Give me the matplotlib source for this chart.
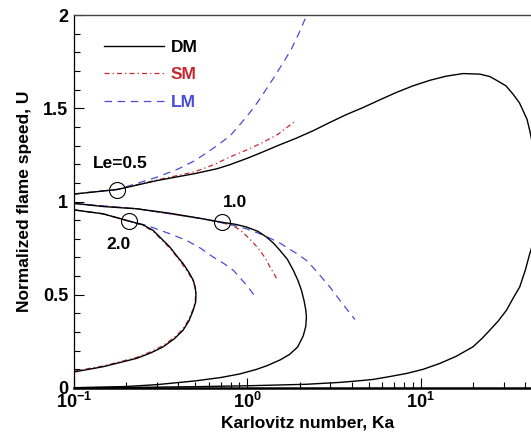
import math
import matplotlib
matplotlib.use("Agg")
import matplotlib.pyplot as plt
from matplotlib.ticker import MultipleLocator, LogLocator, FuncFormatter, NullFormatter

plt.rcParams["font.family"] = ["Liberation Sans", "DejaVu Sans"]
plt.rcParams["font.weight"] = "bold"
plt.rcParams["mathtext.fontset"] = "custom"
plt.rcParams["mathtext.rm"] = "Liberation Sans:bold"
plt.rcParams["mathtext.bf"] = "Liberation Sans:bold"

# ---- data (Ka, U) ----
# Le = 0.5, detailed model (closed loop)
dm05_ka = [0.1, 0.177, 0.3, 0.5, 0.67, 0.79, 1.0, 1.23, 1.5, 1.92, 2.4, 2.99, 3.7, 4.65, 5.8, 7.24,
           9.0, 11.3, 14.0, 17.5, 21.9, 25.0, 27.3, 31.0, 34.0, 37.0, 38.9, 41.0, 42.5, 44.3,
           45.7, 46.6, 46.8, 46.3, 45.2, 43.8, 42.5, 40.0, 37.2, 34.0, 31.2, 28.0, 25.0, 22.5,
           20.0, 16.0, 12.9, 10.3, 8.28, 6.5, 5.31, 4.2, 3.41, 2.19, 1.5, 1.0, 0.5, 0.2, 0.1]
dm05_u = [1.04, 1.064, 1.112, 1.15, 1.176, 1.197, 1.232, 1.266, 1.30, 1.34, 1.38, 1.424, 1.465, 1.504,
          1.545, 1.585, 1.62, 1.65, 1.672, 1.686, 1.683, 1.67, 1.65, 1.62, 1.576, 1.53, 1.487,
          1.44, 1.38, 1.30, 1.20, 1.10, 1.0, 0.90, 0.82, 0.76, 0.72, 0.63, 0.542, 0.48, 0.417,
          0.36, 0.31, 0.265, 0.221, 0.17, 0.132, 0.10, 0.078, 0.06, 0.046, 0.037, 0.03, 0.02,
          0.016, 0.012, 0.007, 0.003, 0.002]
sm05_ka = [0.1, 0.177, 0.3, 0.5, 0.65, 0.79, 1.0, 1.23, 1.5, 1.88]
sm05_u = [1.04, 1.065, 1.115, 1.16, 1.20, 1.238, 1.278, 1.317, 1.36, 1.43]
lm05_ka = [0.1, 0.18, 0.3, 0.4, 0.5, 0.67, 0.8, 0.9, 1.0, 1.1, 1.2, 1.3, 1.4, 1.5, 1.6, 1.8,
           2.0, 2.2, 2.3]
lm05_u = [1.04, 1.066, 1.13, 1.175, 1.22, 1.30, 1.355, 1.41, 1.46, 1.51, 1.56, 1.61, 1.655, 1.70,
          1.74, 1.82, 1.91, 2.0, 2.05]

# Le = 1.0
dm10_ka = [0.1, 0.147, 0.23, 0.357, 0.555, 0.71, 0.85, 0.99, 1.15, 1.29, 1.42, 1.54, 1.7, 1.84,
           1.96, 2.05, 2.12, 2.17, 2.19, 2.17, 2.1, 1.95, 1.75, 1.54, 1.3, 1.13, 0.9, 0.7, 0.5,
           0.3, 0.2, 0.1]
dm10_u = [0.99, 0.973, 0.961, 0.937, 0.907, 0.889, 0.878, 0.863, 0.84, 0.809, 0.775, 0.738, 0.69,
          0.631, 0.575, 0.524, 0.47, 0.42, 0.38, 0.33, 0.28, 0.22, 0.18, 0.15, 0.12, 0.10, 0.075,
          0.056, 0.038, 0.018, 0.008, 0.001]
sm10_ka = [0.1, 0.23, 0.555, 0.8, 0.9, 0.99, 1.08, 1.18, 1.27, 1.35, 1.42, 1.49]
sm10_u = [0.99, 0.961, 0.907, 0.875, 0.85, 0.815, 0.78, 0.738, 0.695, 0.649, 0.615, 0.578]
lm10_ka = [0.1, 0.23, 0.555, 0.8, 1.0, 1.18, 1.35, 1.54, 1.76, 1.97, 2.19, 2.4, 2.62, 2.99,
           3.41, 3.8, 4.17]
lm10_u = [0.99, 0.961, 0.907, 0.876, 0.852, 0.827, 0.803, 0.777, 0.743, 0.715, 0.684, 0.645,
          0.604, 0.542, 0.471, 0.415, 0.367]

# Le = 2.0
dm20_ka = [0.1, 0.147, 0.208, 0.25, 0.286, 0.32, 0.357, 0.39, 0.426, 0.46, 0.487, 0.5, 0.505,
           0.503, 0.487, 0.46, 0.426, 0.38, 0.327, 0.28, 0.23, 0.147, 0.1]
dm20_u = [0.955, 0.934, 0.895, 0.875, 0.845, 0.80, 0.756, 0.71, 0.667, 0.62, 0.578, 0.54, 0.506,
          0.46, 0.417, 0.36, 0.31, 0.265, 0.221, 0.19, 0.159, 0.114, 0.086]
sm20_ka = [0.1, 0.147, 0.208, 0.25, 0.286, 0.32, 0.357, 0.39, 0.424, 0.458, 0.485, 0.498, 0.503,
           0.5, 0.485, 0.458, 0.424, 0.378, 0.325, 0.28, 0.23, 0.147, 0.1]
sm20_u = [0.955, 0.934, 0.893, 0.872, 0.84, 0.795, 0.75, 0.705, 0.66, 0.615, 0.575, 0.54, 0.506,
          0.462, 0.42, 0.365, 0.315, 0.27, 0.227, 0.196, 0.164, 0.118, 0.09]
lm20_ka = [0.1, 0.147, 0.208, 0.262, 0.357, 0.447, 0.54, 0.635, 0.73, 0.83, 0.99, 1.13]
lm20_u = [0.955, 0.934, 0.895, 0.872, 0.827, 0.791, 0.748, 0.702, 0.668, 0.631, 0.551, 0.48]

# circled points and their labels
mark_ka = [0.177, 0.71, 0.208]
mark_u = [1.064, 0.889, 0.895]
label_txt = ["Le=0.5", "1.0", "2.0"]
label_ka = [0.185, 0.85, 0.18]
label_u = [1.205, 0.995, 0.77]

red = "#c8282d"
blue = "#4b4bd7"

fig = plt.figure(figsize=(5.31, 4.37), dpi=100)
ax = fig.add_axes([74 / 531, 1 - 388 / 437, 468 / 531, 373 / 437])

sm_style = dict(color=red, lw=0.9, dashes=(4, 2.5, 1, 2.5))
lm_style = dict(color=blue, lw=0.9, dashes=(6, 4.5))
dm_style = dict(color="black", lw=1.0)

ax.plot(sm05_ka, sm05_u, **sm_style)
ax.plot(sm10_ka, sm10_u, **sm_style)
ax.plot(sm20_ka, sm20_u, **sm_style)
ax.plot(lm05_ka, lm05_u, **lm_style)
ax.plot(lm10_ka, lm10_u, **lm_style)
ax.plot(lm20_ka, lm20_u, **lm_style)
l1, = ax.plot(dm05_ka, dm05_u, label="DM", **dm_style)
ax.plot(dm10_ka, dm10_u, **dm_style)
ax.plot(dm20_ka, dm20_u, **dm_style)
l2, = ax.plot([], [], label="SM", **sm_style)
l3, = ax.plot([], [], label="LM", **lm_style)

ax.plot(mark_ka, mark_u, "o", ms=11.5, mfc="none", mec="black", mew=0.8, ls="none")
for t, x, y in zip(label_txt, label_ka, label_u):
    ax.text(x, y, t, ha="center", va="center", fontsize=12.5, fontweight="bold")

ax.set_xscale("log")
ax.set_xlim(0.1, 50)
ax.set_ylim(0, 2)

ax.xaxis.set_major_locator(LogLocator(base=10))
ax.xaxis.set_minor_locator(LogLocator(base=10, subs=range(2, 10)))
ax.xaxis.set_minor_formatter(NullFormatter())
ax.xaxis.set_major_formatter(FuncFormatter(lambda v, p: r"$10^{%d}$" % round(math.log10(v))))
ax.yaxis.set_major_locator(MultipleLocator(0.5))
ax.yaxis.set_minor_locator(MultipleLocator(0.1))
ax.yaxis.set_major_formatter(FuncFormatter(lambda v, p: "%g" % v))

ax.tick_params(which="both", direction="in", top=False, right=False, labelsize=13)
ax.tick_params(which="major", length=7, width=0.8)
ax.tick_params(which="minor", length=4, width=0.8)
ax.tick_params(axis="y", pad=4.3)
ax.tick_params(axis="x", pad=3)

ax.spines["left"].set_linewidth(0.9)
ax.spines["top"].set_linewidth(1.0)
ax.spines["top"].set_color("#444444")
ax.spines["bottom"].set_linewidth(1.8)

ax.set_xlabel("Karlovitz number, Ka", fontsize=12.5, fontweight="bold")
ax.set_ylabel("Normalized flame speed, U", fontsize=12.5, fontweight="bold")
ax.xaxis.set_label_coords(0.5, -0.075)
ax.yaxis.set_label_coords(-0.09, 0.5)

leg = ax.legend(handles=[l1, l2, l3], loc="upper left", bbox_to_anchor=(0.03, 0.975),
                frameon=False, fontsize=12.5, handlelength=3.5, handletextpad=0.35,
                labelspacing=0.7, labelcolor=["black", red, blue])
for t in leg.get_texts():
    t.set_fontweight("bold")

fig.savefig("out.png", dpi=100)
